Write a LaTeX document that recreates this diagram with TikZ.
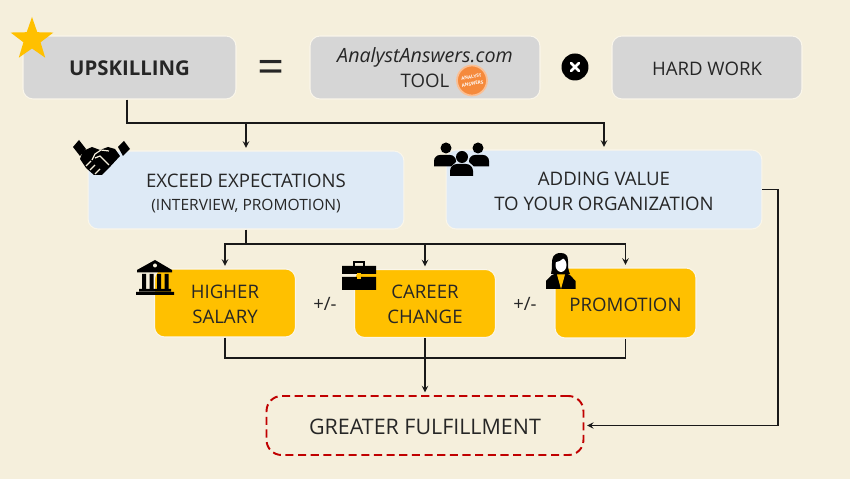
\documentclass[tikz,border=0pt]{standalone}
\usepackage{fontspec}
\setmainfont{Open Sans}
\usetikzlibrary{shapes.geometric,arrows.meta}
\definecolor{paper}{HTML}{F5EFDC}
\definecolor{boxgray}{HTML}{D6D6D6}
\definecolor{boxblue}{HTML}{DEEAF6}
\definecolor{boxgold}{HTML}{FFC000}
\definecolor{goalred}{HTML}{C00000}
\definecolor{badge}{HTML}{F58A3C}
\definecolor{rimpale}{HTML}{FAF6EA}
\newcommand{\dropline}[1]{\rule{0pt}{#1}}

\begin{document}
\begin{tikzpicture}[
    x=0.02cm, y=-0.02cm,
    tier/.style={draw=rimpale, line width=0.6pt, rounded corners=0.2cm, align=center, inner sep=0pt, text=black!85, font=\fontsize{10.6}{14.2}\selectfont},
    graybox/.style={tier, fill=boxgray, minimum height=1.26cm},
    bluebox/.style={tier, fill=boxblue, minimum width=6.32cm, minimum height=1.56cm},
    goldbox/.style={tier, fill=boxgold, minimum width=2.82cm, minimum height=1.36cm},
    wire/.style={line width=0.65pt, black!90},
    arr/.style={wire, ->, >=stealth, shorten >=1.5pt},
    icon/.style={fill=black, draw=none},
    signtext/.style={inner sep=0pt, text=black!85, font=\fontsize{10.5}{13}\selectfont}
]
\useasboundingbox (0,0) rectangle (850,479);
\fill[paper] (0,0) rectangle (850,479);

% top row
\node[graybox, minimum width=4.26cm, font=\fontsize{11.6}{15}\selectfont\bfseries] (up) at (129.5,67.5) {\dropline{9.4pt}UPSKILLING};
\node[signtext, font=\fontsize{27}{30}\selectfont] (equal) at (271.5,72) {=};
\node[graybox, minimum width=4.6cm] (tool) at (425,67.5) {{\fontsize{11.2}{14.6}\selectfont\itshape AnalystAnswers.com}\\TOOL};
\node[circle, fill=black, minimum size=0.54cm, inner sep=0pt] (times) at (575,67) {};
\node[graybox, minimum width=3.8cm] (hard) at (707,67.5) {\dropline{8.8pt}HARD WORK};

% middle row
\node[bluebox] (exceed) at (246,190) {\dropline{11.7pt}EXCEED EXPECTATIONS\\[-1.2pt]{\fontsize{8.85}{11}\selectfont (INTERVIEW, PROMOTION)}};
\node[bluebox, minimum height=1.58cm] (addval) at (604,189.5) {\dropline{9.9pt}ADDING VALUE\\TO YOUR ORGANIZATION};

% gold row
\node[goldbox] (salary) at (225,303) {\dropline{8.8pt}HIGHER\\SALARY};
\node[signtext] (pm1) at (325,304) {+/-};
\node[goldbox] (career) at (425,303.5) {\dropline{8.8pt}CAREER\\CHANGE};
\node[signtext] (pm2) at (525,304) {+/-};
\node[goldbox, minimum height=1.4cm] (promo) at (625.5,303) {\dropline{9.9pt}PROMOTION};

% result
\node[draw=goalred, line width=1.1pt, dash pattern=on 4.6pt off 2.6pt, rounded corners=0.3cm, minimum width=6.34cm, minimum height=1.18cm, inner sep=0pt, text=black!85, align=center, font=\fontsize{12.2}{14}\selectfont] (goal) at (425,425.5) {\dropline{9.9pt}GREATER FULFILLMENT};

% helper points for the elbows
\coordinate (upbus) at (127,123);
\coordinate (midbus) at (246,244);
\coordinate (lowbus) at (425,358);
\coordinate (sidebus) at (778,300);

% connectors
\draw[arr] (up.south -| upbus) -- (upbus) -| (addval.north);
\draw[arr] (exceed.north |- upbus) -- (exceed.north);
\draw[wire] (exceed.south) -- (midbus);
\draw[arr] (midbus) -| (salary.north);
\draw[arr] (midbus) -| (promo.north);
\draw[arr] (career.north |- midbus) -- (career.north);
\draw[wire] (salary.south) |- (lowbus) -| (promo.south);
\draw[arr] (career.south) -- (goal.north);
\draw[arr] (addval.east) -| (sidebus) |- (goal.east);

% star
\node[star, star points=5, star point ratio=2.5, fill=boxgold, minimum size=0.9cm, inner sep=0pt] (mark) at (32,39.5) {};

% times sign
\draw[white, line width=1.6pt, line cap=round] (571,63) -- (579,71) (579,63) -- (571,71);

% orange badge
\node[circle, fill=badge, draw=badge!55!white, line width=1pt, minimum size=0.6cm, inner sep=0pt, align=center, text=white, rotate=10, font=\fontsize{2.6}{3.9}\selectfont\bfseries] (logo) at (472,80.5) {ANALYST\\ANSWERS};

% handshake
\fill[icon] (73,147) -- (79,140) -- (86,149) -- (80,156) -- cycle;
\fill[icon] (118,147) -- (124,141) -- (130,149) -- (123,156) -- cycle;
\fill[icon] (83,151) -- (92,147) -- (100,150) -- (108,147) -- (115,149) -- (120,156) -- (108,169) -- (102,175) -- (94,175) -- (86,168) -- (80,159) -- cycle;
\draw[paper, line width=0.7pt] (92,160) -- (95,154) -- (101,150) -- (109,151) (95,158) -- (100,156) -- (109,165) (86,166) -- (91,161) (90,170) -- (95,165) (95,174) -- (100,169);

% people
\fill[icon] (446,148) circle (5.5) (478,148) circle (5.5) (462,157) circle (6);
\fill[icon] (434,166.5) -- (434,161) arc[start angle=180, end angle=270, radius=6] -- (450,155) arc[start angle=-90, end angle=0, radius=6] -- (456,162) -- (451,166.5) -- cycle;
\fill[icon] (469,162) -- (469,161) arc[start angle=180, end angle=270, radius=6] -- (483,155) arc[start angle=-90, end angle=0, radius=6] -- (489,166.5) -- (474,166.5) -- cycle;
\fill[icon] (450,176) -- (450,171) arc[start angle=180, end angle=270, radius=7] -- (466,164) arc[start angle=-90, end angle=0, radius=7] -- (473,176) -- cycle;

% bank
\fill[icon] (155,260) -- (172,270) -- (172,272.5) -- (137,272.5) -- (137,270) -- cycle;
\fill[paper] (155,265.5) circle (2);
\fill[icon] (142,274) rectangle (146,289) (149.5,274) rectangle (153.5,289) (157,274) rectangle (161,289) (164.5,274) rectangle (168.5,289);
\fill[icon] (139,289) rectangle (171,291.5) (136,292) rectangle (174,295);

% briefcase
\draw[line width=1.2pt, black] (354,266) -- (354,262) -- (364,262) -- (364,266);
\fill[icon] (342,266) rectangle (376,274) (342,277) rectangle (376,290);
\fill[boxgold] (357,273) rectangle (361,279);

% woman
\fill[icon] (546,289) -- (546,281) -- (552,275) -- (557,273) -- (565,273) -- (570,275) -- (575.5,281) -- (575.5,289) -- cycle;
\fill[icon] (561,253) .. controls (553,253) and (552,258) .. (552,263) .. controls (552,268) and (552,270) .. (551,274) -- (570,274) .. controls (568,270) and (568,266) .. (568,261) .. controls (568,256) and (566,253) .. (561,253) -- cycle;
\fill[white] (561,265) ellipse (5.5 and 7);
\fill[icon] (555,262) .. controls (559,262) and (562,260) .. (564,257) .. controls (567,259) and (567,261) .. (567,263) -- (567,256) -- (555,256) -- cycle;
\fill[boxgold] (557,274.5) -- (565,274.5) -- (561,289) -- cycle;
\end{tikzpicture}
\end{document}
